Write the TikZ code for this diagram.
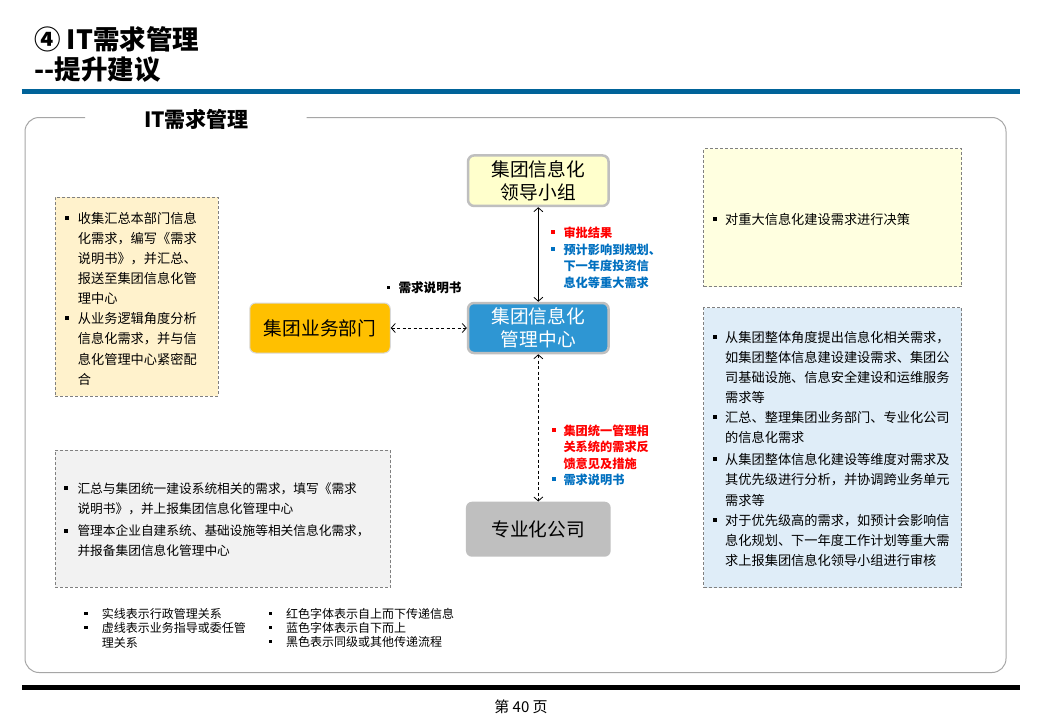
\documentclass[tikz,border=0pt]{standalone}
\usepackage{fontspec}
\setmainfont{Noto Sans CJK SC}
\usetikzlibrary{arrows.meta}
\definecolor{rulebl}{RGB}{0,99,153}
\definecolor{framegr}{RGB}{166,166,166}
\definecolor{leadfill}{RGB}{255,255,204}
\definecolor{ctrfill}{RGB}{46,150,211}
\definecolor{deptfill}{RGB}{255,192,0}
\definecolor{compfill}{RGB}{191,191,191}
\definecolor{nodeborder}{RGB}{191,191,191}
\definecolor{deptborder}{RGB}{217,217,217}
\definecolor{boxA}{RGB}{255,242,204}
\definecolor{boxB}{RGB}{255,255,224}
\definecolor{boxC}{RGB}{223,237,248}
\definecolor{boxD}{RGB}{242,242,242}
\definecolor{dashgr}{RGB}{128,128,128}
\definecolor{redtxt}{RGB}{255,0,0}
\definecolor{bluetxt}{RGB}{0,112,192}
\tikzset{
  mainnode/.style={rounded corners=6pt, align=center, inner sep=0pt,
    font=\fontsize{18.7pt}{23.6pt}\selectfont},
  infobox/.style={draw=dashgr, line width=0.8pt, dash pattern=on 3pt off 2pt, inner sep=0pt},
  bodytxt/.style={anchor=north west, align=left, inner sep=0pt,
    font=\fontsize{13.2pt}{20.2pt}\selectfont},
  graytxt/.style={anchor=north west, align=left, inner sep=0pt,
    font=\fontsize{12.7pt}{20pt}\selectfont},
  lbltxt/.style={anchor=north west, align=left, inner sep=0pt,
    font=\bfseries\fontsize{12.2pt}{16.5pt}\selectfont},
  legtxt/.style={anchor=north west, align=left, inner sep=0pt,
    font=\fontsize{12pt}{14.3pt}\selectfont},
  solidarr/.style={line width=0.8pt, {Straight Barb[length=4pt,width=9pt]}-{Straight Barb[length=4pt,width=9pt]}},
  dasharr/.style={solidarr, dash pattern=on 3pt off 2.5pt}
}
\newcommand{\bulsq}[3]{\fill[#3] (#1-2,#2-2) rectangle (#1+2,#2+2);}
\newcommand{\bulsm}[2]{\fill (#1-1.7,#2-1.7) rectangle (#1+1.7,#2+1.7);}
\begin{document}
\begin{tikzpicture}[x=1pt,y=-1pt]
\useasboundingbox (0,0) rectangle (1040,720);
\fill[white] (0,0) rectangle (1040,720);

% titles
\node[anchor=west, inner sep=0pt, font=\bfseries\fontsize{26.5pt}{26.5pt}\selectfont] (t1) at (34,39.5) {④ IT需求管理};
\node[anchor=west, inner sep=0pt, font=\bfseries\fontsize{26.5pt}{26.5pt}\selectfont] (t2) at (34,70) {-{}-提升建议};
\draw[rulebl, line width=5pt] (21.7,91) -- (1020,91);
\draw[black, line width=5pt] (22,687.5) -- (1020,687.5);
\node[inner sep=0pt, font=\fontsize{15pt}{15pt}\selectfont] (pg) at (521,707) {第 40 页};

% frame
\draw[framegr, line width=1pt, rounded corners=14pt] (85,117.5) -- (25,117.5) -- (25,672.5) -- (1006,672.5) -- (1006,117.5) -- (306.7,117.5);
\node[anchor=west, inner sep=0pt, font=\bfseries\fontsize{21pt}{21pt}\selectfont] (ftitle) at (144,119.5) {IT需求管理};

% info boxes
\node[infobox, fill=boxA, minimum width=163pt, minimum height=199pt] (bA) at (136.5,296.5) {};
\node[infobox, fill=boxB, minimum width=258pt, minimum height=138pt] (bB) at (832.5,217.5) {};
\node[infobox, fill=boxC, minimum width=258pt, minimum height=280pt] (bC) at (832.5,447.7) {};
\node[infobox, fill=boxD, minimum width=335.5pt, minimum height=137pt] (bD) at (222.8,518.7) {};

% left box text
\bulsq{66.7}{217.7}{black}
\node[bodytxt] (tA1) at (77.7,211.7) {收集汇总本部门信息\\化需求，编写《需求\\说明书》，并汇总、\\报送至集团信息化管\\理中心};
\bulsq{66.7}{318.3}{black}
\node[bodytxt] (tA2) at (77.7,312.3) {从业务逻辑角度分析\\信息化需求，并与信\\息化管理中心紧密配\\合};

% right top
\bulsq{715}{219}{black}
\node[bodytxt] (tB1) at (725,213) {对重大信息化建设需求进行决策};

% right blue
\bulsq{715}{336.7}{black}
\node[bodytxt] (tC1) at (725,330.7) {从集团整体角度提出信息化相关需求，\\如集团整体信息建设建设需求、集团公\\司基础设施、信息安全建设和运维服务\\需求等};
\bulsq{715}{417.3}{black}
\node[bodytxt] (tC2) at (725,411.3) {汇总、整理集团业务部门、专业化公司\\的信息化需求};
\bulsq{715}{459.3}{black}
\node[bodytxt] (tC3) at (725,453.3) {从集团整体信息化建设等维度对需求及\\其优先级进行分析，并协调跨业务单元\\需求等};
\bulsq{715}{520}{black}
\node[bodytxt] (tC4) at (725,514) {对于优先级高的需求，如预计会影响信\\息化规划、下一年度工作计划等重大需\\求上报集团信息化领导小组进行审核};

% gray box
\bulsq{66}{488.3}{black}
\node[graytxt] (tD1) at (77.3,482.5) {汇总与集团统一建设系统相关的需求，填写《需求\\说明书》，并上报集团信息化管理中心};
\bulsq{66}{530.7}{black}
\node[graytxt] (tD2) at (77.3,524.9) {管理本企业自建系统、基础设施等相关信息化需求，\\并报备集团信息化管理中心};

% main nodes
\node[mainnode, fill=leadfill, draw=nodeborder, line width=2.5pt, minimum width=140.5pt, minimum height=50.5pt] (lead) at (538.3,180.7) {集团信息化\\领导小组};
\node[mainnode, fill=ctrfill, draw=nodeborder, line width=2.5pt, minimum width=140.5pt, minimum height=50pt, text=white] (ctr) at (538.3,328) {集团信息化\\管理中心};
\node[mainnode, fill=deptfill, draw=deptborder, line width=1pt, minimum width=140.5pt, minimum height=50pt] (dept) at (320,328) {集团业务部门};
\node[mainnode, fill=compfill, minimum width=144.7pt, minimum height=55pt] (comp) at (538.3,529.2) {专业化公司};

% connectors
\draw[solidarr] (lead.south) -- (ctr.north);
\draw[dasharr] (dept.east) -- (ctr.west);
\draw[dasharr] (ctr.south) -- (comp.north);

% connector labels
\bulsq{553.3}{232.3}{redtxt}
\node[lbltxt, text=redtxt] (l1) at (563.3,226.8) {审批结果};
\bulsq{553.3}{249.3}{bluetxt}
\node[lbltxt, text=bluetxt] (l2) at (563.3,243.8) {预计影响到规划、\\下一年度投资信\\息化等重大需求};
\bulsm{388.3}{287.3}
\node[lbltxt, font=\bfseries\fontsize{12.6pt}{16pt}\selectfont] (l3) at (398.3,281.6) {需求说明书};
\bulsq{554}{430}{redtxt}
\node[lbltxt, text=redtxt] (l4) at (563.3,424.5) {集团统一管理相\\关系统的需求反\\馈意见及措施};
\bulsq{554}{479.3}{bluetxt}
\node[lbltxt, text=bluetxt] (l5) at (563.3,473.8) {需求说明书};

% legend
\bulsm{86}{613.3}
\node[legtxt] (g1) at (101.7,608) {实线表示行政管理关系};
\bulsm{86}{627.7}
\node[legtxt] (g2) at (101.7,622.4) {虚线表示业务指导或委任管\\理关系};
\bulsm{270.7}{613.3}
\node[legtxt] (g3) at (286,608) {红色字体表示自上而下传递信息};
\bulsm{270.7}{627.7}
\node[legtxt] (g4) at (286,622.4) {蓝色字体表示自下而上};
\bulsm{270.7}{641.7}
\node[legtxt] (g5) at (286,636.4) {黑色表示同级或其他传递流程};
\end{tikzpicture}
\end{document}
